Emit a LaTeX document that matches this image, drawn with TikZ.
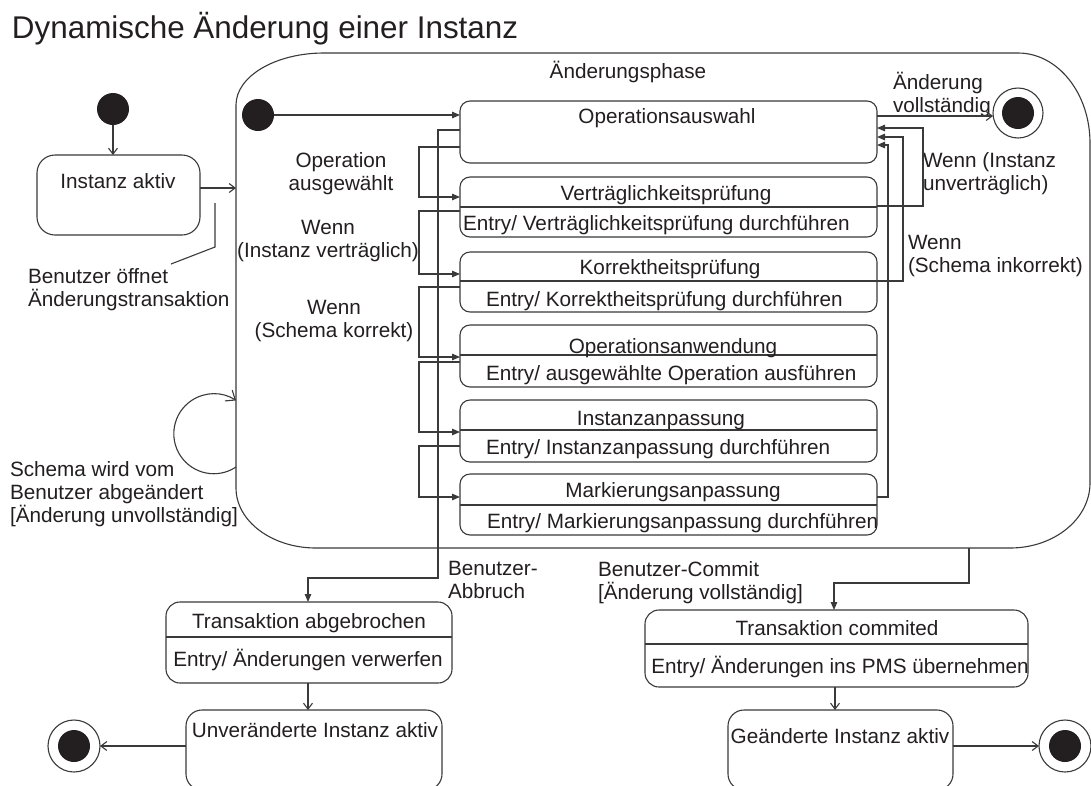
\documentclass[tikz,border=0pt]{standalone}
\usepackage{fontspec}
\setmainfont{Liberation Sans}
\usetikzlibrary{arrows.meta}
\definecolor{ink}{HTML}{231F20}
\definecolor{ln}{HTML}{3A3A3A}
\begin{document}
\begin{tikzpicture}[x=1pt,y=-1pt,
  every node/.style={text=ink, font=\fontsize{20.7}{23}\selectfont, inner sep=0pt, outer sep=0pt},
  stbox/.style={draw=ln, line width=1.1pt, rounded corners=10pt},
  dot/.style={circle, fill=ink, minimum size=32pt},
  ring/.style={circle, draw=ln, line width=1.1pt, minimum size=52pt},
  conn/.style={draw=ln, line width=1.1pt},
  arrF/.style={-{Triangle[length=8pt,width=6.5pt]}},
  arrO/.style={-{Straight Barb[length=6pt,width=9pt]}},
  lb/.style={anchor=base},
  lbw/.style={anchor=base west}
]
\useasboundingbox (0,0) rectangle (1091,785);
\fill[white] (0,0) rectangle (1091,785);

% title
\node[anchor=base west, font=\fontsize{31.4}{36}\selectfont] (title) at (12,38) {Dynamische Änderung einer Instanz};

% container (composite state)
\node[minimum width=854pt, minimum height=495pt] (cont) at (663,300.5) {};
\draw[ln, line width=1.1pt] (236,105) .. controls (236,76.3) and (275.4,53) .. (324,53)
  -- (1018,53) .. controls (1057.8,53) and (1090,93.3) .. (1090,143)
  -- (1090,483) .. controls (1090,518.9) and (1054.2,548) .. (1010,548)
  -- (316,548) .. controls (271.8,548) and (236,521.1) .. (236,488) -- cycle;
\node[lb] (contT) at (628,78) {Änderungsphase};

% outer states
\node[dot] (init1) at (113,109) {};
\node[stbox, rounded corners=18pt, minimum width=163pt, minimum height=80pt] (inst) at (118.5,195) {};
\node[lb] (instT) at (118,188) {Instanz aktiv};

% inner states
\node[dot] (init2) at (258,115) {};

\node[stbox, minimum width=417pt, minimum height=62pt] (opsel) at (668.5,132) {};
\node[lb] (opselT) at (667,123) {Operationsauswahl};

\node[stbox, minimum width=417pt, minimum height=60pt] (vp) at (668.5,207) {};
\draw[conn] (vp.west |- 0,207) -- (vp.east |- 0,207);
\node[lb] (vpT) at (666,200) {Verträglichkeitsprüfung};
\node[lbw] (vpE) at (463,230) {Entry/ Verträglichkeitsprüfung durchführen};

\node[stbox, minimum width=417pt, minimum height=60pt] (kp) at (668.5,282) {};
\draw[conn] (kp.west |- 0,281) -- (kp.east |- 0,281);
\node[lb] (kpT) at (670,274) {Korrektheitsprüfung};
\node[lbw] (kpE) at (486,306) {Entry/ Korrektheitsprüfung durchführen};

\node[stbox, minimum width=417pt, minimum height=62pt] (oa) at (668.5,356) {};
\draw[conn] (oa.west |- 0,355) -- (oa.east |- 0,355);
\node[lb] (oaT) at (673,353) {Operationsanwendung};
\node[lbw] (oaE) at (486,380) {Entry/ ausgewählte Operation ausführen};

\node[stbox, minimum width=417pt, minimum height=62pt] (ia) at (668.5,431) {};
\draw[conn] (ia.west |- 0,430) -- (ia.east |- 0,430);
\node[lb] (iaT) at (661,425) {Instanzanpassung};
\node[lbw] (iaE) at (486,454) {Entry/ Instanzanpassung durchführen};

\node[stbox, minimum width=417pt, minimum height=61pt] (ma) at (668.5,504.5) {};
\draw[conn] (ma.west |- 0,505) -- (ma.east |- 0,505);
\node[lb] (maT) at (673,497) {Markierungsanpassung};
\node[lbw] (maE) at (487,528) {Entry/ Markierungsanpassung durchführen};

\node[ring, minimum size=50pt] (fin1) at (1018,113) {};
\node[dot] (fin1i) at (fin1) {};

% bottom states
\node[stbox, rounded corners=14pt, minimum width=286pt, minimum height=81pt] (tab) at (309,642.5) {};
\draw[conn] (tab.west |- 0,637) -- (tab.east |- 0,637);
\node[lb] (tabT) at (309,628) {Transaktion abgebrochen};
\node[lb] (tabE) at (308,666) {Entry/ Änderungen verwerfen};

\node[stbox, rounded corners=16pt, minimum width=256pt, minimum height=80pt] (uia) at (314,750) {};
\node[lb] (uiaT) at (315,737) {Unveränderte Instanz aktiv};

\node[stbox, rounded corners=14pt, minimum width=383pt, minimum height=77pt] (tc) at (836.5,648.5) {};
\draw[conn] (tc.west |- 0,644) -- (tc.east |- 0,644);
\node[lb] (tcT) at (837,635) {Transaktion commited};
\node[lb] (tcE) at (840,673) {Entry/ Änderungen ins PMS übernehmen};

\node[stbox, rounded corners=16pt, minimum width=225pt, minimum height=80pt] (gia) at (840.5,750) {};
\node[lb] (giaT) at (840,743) {Geänderte Instanz aktiv};

\node[ring] (fin2) at (74,746) {};
\node[dot] (fin2i) at (fin2) {};
\node[ring] (fin3) at (1065,746) {};
\node[dot] (fin3i) at (fin3) {};

% labels (base anchor = baseline of the last line)
\node[lbw, align=left] (lblOpen) at (28,306.5) {Benutzer öffnet\\Änderungstransaktion};
\node[lb, align=center] (lblOpAus) at (341,190) {Operation\\ausgewählt};
\node[lb, align=center] (lblIV) at (328,257) {Wenn\\(Instanz verträglich)};
\node[lb, align=center] (lblSK) at (334,337) {Wenn\\(Schema korrekt)};
\node[lbw, align=left] (lblVoll) at (893,112) {Änderung\\vollständig};
\node[lbw, align=left] (lblIU) at (923,190.5) {Wenn (Instanz\\unverträglich)};
\node[lbw, align=left] (lblSI) at (908,272) {Wenn\\(Schema inkorrekt)};
\node[lbw, align=left] (lblLoop) at (10,522) {Schema wird vom\\Benutzer abgeändert\\{[}Änderung unvollständig{]}};
\node[lbw, align=left] (lblAbbr) at (448,598.5) {Benutzer-\\Abbruch};
\node[lbw, align=left] (lblCommit) at (598,599) {Benutzer-Commit\\{[}Änderung vollständig{]}};

% connectors
\draw[conn, arrO] (init1.south) -- (init1.south |- inst.north);
\draw[conn, arrO] (inst.east |- 0,188) -- (cont.west |- 0,188);
\draw[conn] (215,203) -- (215,247) -- (171,264);
\draw[conn, -{Straight Barb[length=8pt,width=13pt]}] (cont.west |- 0,467) arc[start angle=56.3, end angle=303.7, radius=40];

\draw[conn, arrF] (init2.east) -- (opsel.west |- init2.east);
\draw[conn, arrF] (opsel.west |- 0,147) -- (419,147) -- (419,197) -- (vp.west |- 0,197);
\draw[conn, arrF] (vp.west |- 0,211) -- (419,211) -- (419,274) -- (kp.west |- 0,274);
\draw[conn, arrF] (kp.west |- 0,287) -- (419,287) -- (419,357) -- (oa.west |- 0,357);
\draw[conn, arrF] (oa.west |- 0,362) -- (419,362) -- (419,432) -- (ia.west |- 0,432);
\draw[conn, arrF] (ia.west |- 0,446) -- (419,446) -- (419,497) -- (ma.west |- 0,497);

\draw[conn, arrO] (opsel.east |- 0,116) -- (fin1.west |- 0,116);
\draw[conn, arrF] (vp.east |- 0,206) -- (923,206) -- (923,128) -- (opsel.east |- 0,128);
\draw[conn, arrF] (kp.east |- 0,281) -- (903,281) -- (903,137) -- (opsel.east |- 0,137);
\draw[conn, arrF] (ma.east |- 0,497) -- (888,497) -- (888,145) -- (opsel.east |- 0,145);

\draw[conn, arrF] (opsel.west |- 0,130) -- (438,130) -- (438,578) -- (308,578) -- (308,0 |- tab.north);
\draw[conn, arrF] (969,0 |- cont.south) -- (969,583) -- (834,583) -- (834,0 |- tc.north);

\draw[conn, arrO] (308,0 |- tab.south) -- (308,0 |- uia.north);
\draw[conn, arrO] (uia.west |- fin2) -- (fin2.east);
\draw[conn, arrO] (835,0 |- tc.south) -- (835,0 |- gia.north);
\draw[conn, arrO] (gia.east |- fin3) -- (fin3.west);
\end{tikzpicture}
\end{document}
